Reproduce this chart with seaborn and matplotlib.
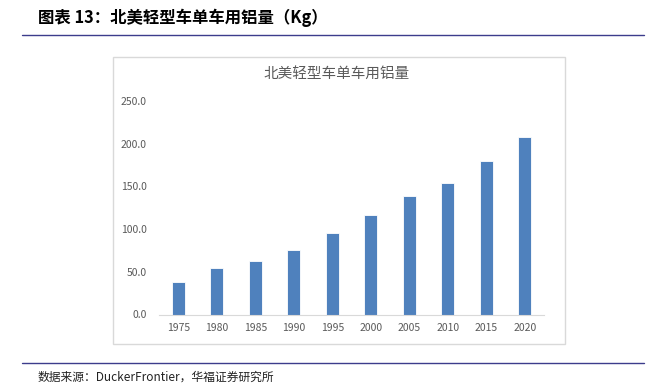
import matplotlib
matplotlib.use('Agg')
import matplotlib.pyplot as plt
import seaborn as sns
import pandas as pd
from matplotlib.patches import Rectangle
from matplotlib.lines import Line2D

# dados
anos = ['1975', '1980', '1985', '1990', '1995', '2000', '2005', '2010', '2015', '2020']
aluminio_kg = [38, 54, 63, 75, 96, 117, 139, 154, 180, 208]
ticks_y = [0, 50, 100, 150, 200, 250]

df = pd.DataFrame({'ano': anos, 'kg': aluminio_kg})

sns.set_style('white')
plt.rcParams['font.family'] = ['Noto Sans CJK SC', 'DejaVu Sans']

W, H = 654, 386
fig = plt.figure(figsize=(W / 100, H / 100), dpi=100)

def fx(px):
    return px / W

def fy(py):
    return 1 - py / H

# moldura do gráfico (estilo Excel)
fig.patches.append(Rectangle((fx(113), fy(344)), fx(565) - fx(113), fy(57) - fy(344),
                             transform=fig.transFigure, fill=False,
                             edgecolor='#d9d9d9', linewidth=1.0))

# linhas do cabeçalho e rodapé
fig.lines.append(Line2D([fx(22), fx(644)], [fy(35), fy(35)], transform=fig.transFigure,
                        color='#3c3c8c', linewidth=1.0))
fig.lines.append(Line2D([fx(22), fx(644)], [fy(363), fy(363)], transform=fig.transFigure,
                        color='#3c3c8c', linewidth=1.0))

fig.text(fx(38), fy(18), '图表 13：北美轻型车单车用铝量（Kg）', fontsize=11.8,
         fontweight='bold', color='black', va='center', ha='left')
fig.text(fx(38), fy(377), '数据来源：DuckerFrontier，华福证券研究所', fontsize=8.5,
         color='#222222', va='center', ha='left')
fig.text(fx(337), fy(74), '北美轻型车单车用铝量', fontsize=10.5,
         color='#595959', va='center', ha='center')

ax = fig.add_axes([fx(159), fy(314.5), fx(544) - fx(159), fy(101) - fy(314.5)])
sns.barplot(data=df, x='ano', y='kg', color='#4f81bd', width=0.33, ax=ax,
            saturation=1, edgecolor='white', linewidth=0.6)

ax.set_ylim(0, 250)
ax.set_yticks(ticks_y)
ax.set_yticklabels([f'{v:.1f}' for v in ticks_y])
ax.set_xlabel('')
ax.set_ylabel('')
for s in ['top', 'right', 'left']:
    ax.spines[s].set_visible(False)
ax.spines['bottom'].set_color('#d9d9d9')
ax.spines['bottom'].set_linewidth(0.8)
ax.tick_params(axis='both', length=0, labelsize=7.5, labelcolor='#595959')
ax.tick_params(axis='y', pad=9)
ax.tick_params(axis='x', pad=6)
ax.patch.set_alpha(0)

fig.savefig('out.png', dpi=100)
